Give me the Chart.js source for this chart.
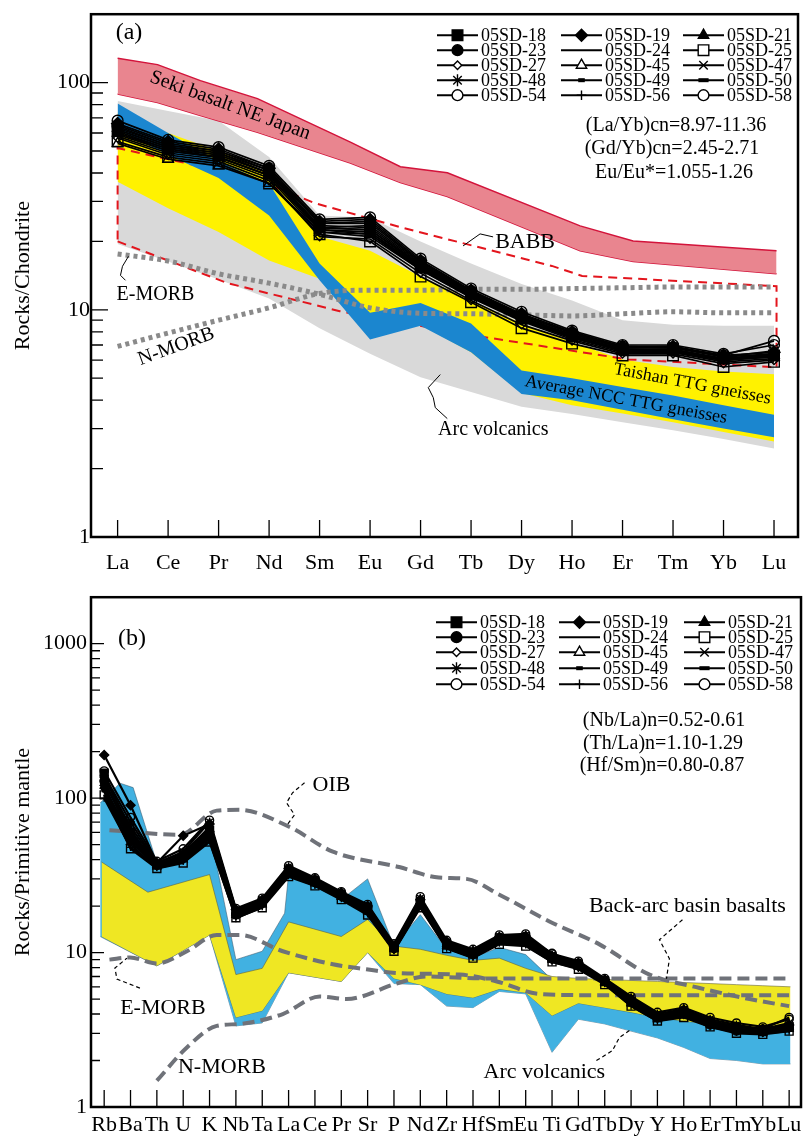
<!DOCTYPE html>
<html>
<head>
<meta charset="utf-8">
<script src="https://cdn.jsdelivr.net/npm/chart.js@4.4.0/dist/chart.umd.min.js"></script>
<style>
  body { margin: 0; background: #fff; }
  #wrap { position: relative; width: 809px; height: 1137px; }
  canvas { position: absolute; left: 0; }
</style>
</head>
<body>
<div id="wrap">
  <canvas id="chartA" width="809" height="580" style="top:0"></canvas>
  <canvas id="chartB" width="809" height="557" style="top:580px"></canvas>
</div>
<script>
// ---- categories / ticks ----
const reeLabels = ['La', 'Ce', 'Pr', 'Nd', 'Sm', 'Eu', 'Gd', 'Tb', 'Dy', 'Ho', 'Er', 'Tm', 'Yb', 'Lu'];
const spiderLabels = ['Rb', 'Ba', 'Th', 'U', 'K', 'Nb', 'Ta', 'La', 'Ce', 'Pr', 'Sr', 'P', 'Nd', 'Zr', 'Hf',
  'Sm', 'Eu', 'Ti', 'Gd', 'Tb', 'Dy', 'Y', 'Ho', 'Er', 'Tm', 'Yb', 'Lu'];
const reeDecades = [1, 10, 100];
const spiderDecades = [1, 10, 100, 1000];
const sampleNames = ['05SD-18', '05SD-19', '05SD-21', '05SD-23', '05SD-24', '05SD-25', '05SD-27', '05SD-45',
  '05SD-47', '05SD-48', '05SD-49', '05SD-50', '05SD-54', '05SD-56', '05SD-58'];

// ---- (a) chondrite normalised REE, one array per sample ----
const ree18 = [62, 52, 48, 40, 23.5, 23, 15.8, 11.8, 9.2, 7.7, 6.7, 6.7, 6.1, 6.3];
const ree19 = [66, 55, 51, 42, 24.5, 25, 16.5, 12.2, 9.6, 8.0, 6.9, 6.9, 6.3, 6.5];
const ree21 = [60, 50, 47, 39, 22.5, 22, 15.2, 11.5, 9.0, 7.5, 6.6, 6.6, 6.0, 6.2];
const ree23 = [64, 53, 49, 41, 23, 23.5, 16, 11.9, 9.3, 7.8, 6.8, 6.8, 6.2, 6.4];
const ree24 = [58, 49, 46, 38, 22, 21, 15, 11.3, 8.9, 7.4, 6.5, 6.5, 5.9, 6.1];
const ree25 = [55, 47, 44, 36, 21.5, 20, 14, 10.8, 8.3, 7.1, 6.3, 6.3, 5.6, 5.9];
const ree27 = [57, 48, 45, 37, 21, 20.5, 14.5, 11.0, 8.6, 7.3, 6.4, 6.4, 5.8, 6.0];
const ree45 = [54, 46, 43, 36, 22, 21.5, 15, 11.4, 9.0, 7.6, 6.6, 6.5, 6.0, 6.3];
const ree47 = [63, 53, 50, 41, 24, 24, 16.2, 12.0, 9.4, 7.9, 6.8, 6.9, 6.2, 6.6];
const ree48 = [61, 51, 48, 40, 23, 22.5, 15.5, 11.7, 9.1, 7.6, 6.7, 6.6, 6.1, 6.4];
const ree49 = [59, 50, 47, 39, 22.5, 21.5, 15.3, 11.6, 9.0, 7.6, 6.6, 6.6, 6.0, 6.2];
const ree50 = [62, 52, 49, 40, 23, 22.5, 15.7, 11.8, 9.2, 7.7, 6.7, 6.7, 6.1, 6.3];
const ree54 = [65, 54, 50, 42, 24, 24.5, 16.3, 12.1, 9.5, 7.9, 6.9, 6.8, 6.3, 7.3];
const ree56 = [60, 51, 47, 39, 22.5, 22, 15.4, 11.6, 9.1, 7.6, 6.6, 6.6, 6.0, 6.3];
const ree58 = [68, 56, 52, 43, 25, 25.5, 16.8, 12.4, 9.8, 8.1, 7.0, 7.0, 6.4, 7.0];

// ---- (a) reference fields ----
const sekiUpper = [[0, 128], [0.79, 120], [1.64, 102], [2.77, 85], [4.61, 54.7], [5.6, 42.6], [6.53, 40.1], [9.16, 23.4], [10.21, 20.1], [13.05, 18.2]];
const sekiLower = [[0, 89], [0.79, 81.7], [1.64, 71.6], [2.77, 60.4], [4.61, 44.3], [5.6, 36.3], [6.53, 31.5], [9.16, 18.2], [10.21, 16.3], [13.05, 14.4]];
const arcUpperA = [83, 75, 68, 47, 26, 25.4, 20, 16, 13, 11, 9, 8.6, 8.5, 8.5];
const arcLowerA = [19.5, 16.3, 13.6, 11.2, 8.3, 6.4, 5.05, 4.35, 3.74, 3.48, 3.2, 2.95, 2.7, 2.45];
const taishanUpper = [74, 60, 50, 40, 21, 18.2, 14, 11, 8.7, 7.2, 6.05, 5.6, 5.35, 5.2];
const taishanLower = [36.6, 28, 22, 16.5, 13.7, 7.6, 8.6, 6.5, 4.3, 3.8, 3.5, 3.2, 2.9, 2.63];
const nccUpper = [81, 60, 45, 36, 16, 9.7, 10.7, 8.7, 5.4, 5.0, 4.57, 4.2, 3.8, 3.45];
const nccLower = [62, 48, 38, 26, 13.5, 7.4, 8.5, 6.5, 4.26, 4.0, 3.63, 3.3, 3.0, 2.75];
const babbOutline = [[0, 20], [2.18, 13.1], [4.4, 9.86], [6.85, 7.84], [10.1, 6.05], [13.05, 5.58], [13.05, 12.7],
  [9.2, 14.1], [8.6, 15.6], [5.6, 23.1], [3.9, 29.5], [2.7, 38], [0, 51.5], [0, 20]];
const eMorbA = [17.6, 16.4, 14.4, 13.1, 11.7, 10.2, 9.65, 9.6, 9.5, 9.4, 9.6, 9.8, 9.7, 9.7];
const nMorbA = [6.9, 7.9, 9.0, 10.2, 11.8, 12.2, 12.2, 12.3, 12.3, 12.4, 12.5, 12.6, 12.6, 12.6];

// ---- (b) primitive mantle normalised, one array per sample ----
const pm18 = [145, 60, 37, 42, 62, 18, 21, 34, 29, 23.5, 19, 10.8, 21, 11.2, 9.8, 12, 12, 9.2, 8.3, 6.5, 4.8, 3.8, 4.1, 3.5, 3.2, 3.1, 3.3];
const pm19 = [190, 90, 38, 57, 68, 19, 22, 35, 30, 24.5, 20, 11.0, 22, 11.8, 10.2, 12.6, 12.8, 9.5, 8.6, 6.7, 5.0, 3.9, 4.2, 3.6, 3.3, 3.2, 3.4];
const pm21 = [120, 52, 36, 40, 58, 17.5, 20.5, 33, 28, 23, 18.5, 10.5, 21.5, 11, 9.6, 11.8, 12.2, 9.0, 8.1, 6.4, 4.7, 3.7, 4.3, 3.5, 3.2, 3.0, 3.2];
const pm23 = [130, 58, 37, 41, 60, 17.8, 21, 33.5, 28.5, 23.2, 19.5, 10.6, 20.5, 11.3, 9.7, 12.2, 11.8, 9.1, 8.2, 6.5, 4.8, 3.8, 4.0, 3.4, 3.1, 3.1, 3.3];
const pm24 = [110, 50, 35, 39, 55, 17, 20, 32, 27.5, 22.5, 18, 10.3, 20, 10.8, 9.4, 11.6, 11.5, 8.8, 8.0, 6.3, 4.6, 3.7, 3.9, 3.4, 3.1, 3.0, 3.2];
const pm25 = [105, 47, 35, 38, 52, 16.8, 19.5, 31, 27, 22, 17.5, 10.2, 19.5, 10.6, 9.2, 11.3, 11.0, 8.7, 7.8, 6.2, 4.5, 3.6, 3.8, 3.3, 3.0, 2.95, 3.1];
const pm27 = [115, 55, 36, 40, 57, 17.2, 20.3, 32.5, 27.8, 22.8, 18.8, 10.4, 20.8, 11, 9.5, 11.9, 11.7, 8.9, 8.0, 6.4, 4.7, 3.7, 4.0, 3.4, 3.1, 3.0, 3.2];
const pm45 = [125, 62, 37, 43, 63, 18.2, 21.5, 34, 29, 23.6, 19.2, 10.7, 21.2, 11.4, 9.9, 12.3, 12.4, 9.2, 8.4, 6.5, 4.9, 3.8, 4.1, 3.5, 3.2, 3.1, 3.3];
const pm47 = [135, 65, 38, 44, 65, 18.5, 21.8, 35, 29.5, 24, 19.8, 10.9, 21.8, 11.6, 10, 12.5, 12.6, 9.4, 8.5, 6.6, 4.9, 3.9, 4.2, 3.6, 3.3, 3.2, 3.4];
const pm48 = [140, 70, 38, 45, 70, 18.8, 22, 36, 30, 24.2, 20.2, 11.2, 22.5, 11.7, 10.3, 12.8, 13, 9.6, 8.7, 6.7, 5.1, 4.0, 4.3, 3.7, 3.4, 3.2, 3.5];
const pm49 = [112, 54, 36, 41, 56, 17.3, 20.6, 32.8, 28, 23, 18.6, 10.5, 20.6, 11.1, 9.6, 12.0, 11.9, 9.0, 8.1, 6.4, 4.7, 3.7, 4.0, 3.4, 3.1, 3.05, 3.2];
const pm50 = [118, 57, 36.5, 42, 59, 17.6, 20.8, 33.2, 28.3, 23.3, 19, 10.6, 21, 11.2, 9.7, 12.1, 12.1, 9.1, 8.2, 6.5, 4.8, 3.8, 4.1, 3.5, 3.2, 3.1, 3.3];
const pm54 = [128, 60, 37, 42, 61, 18, 21.2, 34.5, 29.2, 23.8, 19.6, 10.8, 21.6, 11.5, 9.9, 12.4, 12.5, 9.9, 8.4, 6.6, 4.9, 3.8, 4.2, 3.6, 3.3, 3.2, 3.8];
const pm56 = [100, 48, 35.5, 39, 53, 16.6, 19.8, 31.5, 27.2, 22.3, 17.8, 10.3, 19.8, 10.7, 9.3, 11.5, 11.2, 8.7, 7.9, 6.3, 4.5, 3.6, 3.9, 3.3, 3.05, 3.0, 3.1];
const pm58 = [150, 75, 39, 47, 72, 19.3, 22.5, 36.5, 30.5, 24.8, 20.5, 11.4, 23, 12, 10.5, 13, 13.2, 9.8, 8.8, 6.8, 5.2, 4.1, 4.4, 3.8, 3.5, 3.3, 3.7];

// ---- (b) reference fields ----
const blueUpperB = [[-0.15, 93], [0.6, 125], [1.1, 117], [2, 38], [3, 42], [4, 62], [5, 9.0], [6, 10.2], [6.85, 18], [7, 32],
  [8, 27], [9, 22], [10, 30], [11, 11], [12, 17.6], [13, 10.5], [14, 9.3], [15, 10.8], [16, 9.7], [16.8, 7.2], [17, 6.2],
  [18, 5.5], [19, 5.2], [20, 4.8], [21, 4.4], [22, 4.1], [23, 3.8], [24, 3.6], [25, 3.4], [26.05, 3.4]];
const blueLowerB = [[-0.15, 12.7], [2, 8.2], [4, 13], [5, 3.35], [6, 3.5], [7, 7.4], [9, 6.5], [10, 10], [11, 6.3], [12, 6.2],
  [13, 4.5], [14, 4.4], [15, 5.6], [16, 5.4], [17, 2.26], [18, 3.7], [19, 3.45], [20, 3.1], [21, 2.8], [22, 2.43],
  [23, 2.06], [24, 2.0], [25, 1.9], [26.05, 1.9]];
const yellowUpperB = [[-0.1, 38.6], [1.66, 24.6], [4, 32], [5, 7.2], [6, 7.9], [7, 15.8], [9, 12.7], [10, 16.4], [11, 11],
  [12, 10.5], [13, 9.6], [14, 8.9], [15, 9.2], [16, 7.9], [17, 7.0], [18, 6.8], [19, 6.7], [20, 6.6], [21, 6.5], [22, 6.4],
  [23, 6.3], [24, 6.2], [25, 6.1], [26.05, 6.0]];
const yellowLowerB = [[-0.1, 12.7], [2, 8.2], [4, 13], [5, 3.8], [6, 4.2], [7, 7.4], [9, 6.5], [10, 10], [11, 6.8], [12, 6.2],
  [13, 5.4], [14, 5.1], [15, 5.8], [16, 5.5], [17, 3.9], [18, 4.7], [19, 4.4], [20, 4.1], [21, 3.8], [22, 3.6], [23, 3.45],
  [24, 3.27], [25, 3.1], [26.05, 3.1]];
const oibLine = [[0.2, 62], [2.87, 58], [4.27, 83], [5.14, 84], [7.04, 65], [8.68, 45], [11.2, 35.8], [12.7, 30.6], [13.75, 30],
  [15.0, 23.7], [16.9, 15.9], [18.8, 11.3], [20.7, 7.2], [22.6, 5.9], [24.5, 5.0], [26.0, 4.5]];
const eMorbB = [[0.2, 9.0], [0.98, 9.3], [2.0, 8.5], [3.14, 10.2], [4.27, 13.0], [5.14, 13.0], [6.78, 10.2], [8.68, 8.4],
  [9.95, 7.8], [11.2, 7.35], [13.5, 7.2], [14.9, 6.5], [16.5, 5.4], [18.5, 5.3], [26.0, 5.3]];
const nMorbB = [[2.0, 1.48], [3.14, 2.43], [4.27, 3.35], [5.14, 3.45], [6.78, 4.0], [8.19, 5.2], [9.2, 5.0], [11.1, 6.3],
  [12.2, 7.0], [14.5, 6.8], [26.0, 6.8]];

const reeSeries = [ree18, ree19, ree21, ree23, ree24, ree25, ree27, ree45, ree47, ree48, ree49, ree50, ree54, ree56, ree58];
const pmSeries = [pm18, pm19, pm21, pm23, pm24, pm25, pm27, pm45, pm47, pm48, pm49, pm50, pm54, pm56, pm58];

// marker look for each sample (same order as sampleNames)
const markers = [
  {s: 'rect', fill: true, r: 1.25}, {s: 'rectRot', fill: true}, {s: 'triangle', fill: true},
  {s: 'circle', fill: true, r: 0.9}, {s: null}, {s: 'rect', fill: false, r: 1.25},
  {s: 'rectRot', fill: false, r: 0.7}, {s: 'triangle', fill: false}, {s: 'crossRot'},
  {s: 'star'}, {s: 'line', w: 4, r: 0.55}, {s: 'line', w: 4, r: 0.85},
  {s: 'circle', fill: false, r: 0.9}, {s: 'cross', r: 0.8}, {s: 'circle', fill: false, r: 0.9}
];

Chart.defaults.font.family = '"Liberation Serif", "Times New Roman", serif';
Chart.defaults.color = '#000';

const isDecade = v => Math.abs(Math.log10(v) - Math.round(Math.log10(v))) < 1e-9;
const toPts = vals => vals.map((v, i) => ({x: i, y: v}));
const pairPts = pairs => pairs.map(([x, y]) => ({x, y}));
const CLEAR = 'rgba(0,0,0,0)';

function logTicks(decades, max) {
  const out = [];
  decades.forEach(d => { for (let m = 1; m <= 9; m++) if (m * d <= max) out.push(m * d); });
  return out;
}

function band(upper, lower, color, order, edge, edgeW) {
  return [
    {data: upper, backgroundColor: color, borderColor: edge || CLEAR, borderWidth: edgeW || 0.01, fill: '+1', pointRadius: 0, order},
    {data: lower, borderColor: edge || CLEAR, borderWidth: edgeW || 0.01, fill: false, pointRadius: 0, order}
  ];
}

function refLine(pts, color, width, dash, order, smooth) {
  return {data: pts, borderColor: color, borderWidth: width, borderDash: dash, borderCapStyle: 'butt',
    fill: false, pointRadius: 0, cubicInterpolationMode: smooth ? 'monotone' : 'default', order};
}

function sampleSets(series, rad, lw) {
  return series.map((vals, i) => {
    const m = markers[i];
    return {
      label: sampleNames[i], data: toPts(vals), borderColor: '#000', borderWidth: lw, fill: false,
      pointStyle: m.s || 'circle', pointRadius: m.s ? rad * (m.r || 1) : 0,
      pointBackgroundColor: m.fill ? '#000' : CLEAR, pointBorderColor: '#000',
      pointBorderWidth: m.w || 1.4, order: 1
    };
  });
}

const decoPlugin = {
  id: 'deco',
  afterDatasetsDraw(chart, args, o) {
    const {ctx, chartArea: a, scales: {x, y}} = chart;
    ctx.save();
    // inward tick marks
    ctx.strokeStyle = '#000';
    ctx.lineWidth = 1.3;
    ctx.beginPath();
    y.ticks.forEach(t => {
      const py = y.getPixelForValue(t.value);
      if (py <= a.top + 2 || py >= a.bottom - 2) return;
      ctx.moveTo(a.left, py);
      ctx.lineTo(a.left + (isDecade(t.value) ? o.yMajor : o.yMinor), py);
    });
    x.ticks.forEach(t => {
      const px = x.getPixelForValue(t.value);
      ctx.moveTo(px, a.bottom);
      ctx.lineTo(px, a.bottom - o.xLen);
    });
    ctx.stroke();
    ctx.lineWidth = 2.5;
    ctx.strokeRect(a.left, a.top, a.right - a.left, a.bottom - a.top);

    // label leaders
    o.leaders.forEach(l => {
      const px = x.getPixelForValue(l.x), py = y.getPixelForValue(l.y);
      ctx.beginPath();
      ctx.lineWidth = o.leaderW;
      ctx.setLineDash(o.leaderDash);
      l.pts.forEach(([dx, dy], k) => k ? ctx.lineTo(px + dx, py + dy) : ctx.moveTo(px + dx, py + dy));
      ctx.stroke();
    });
    ctx.setLineDash([]);

    // texts
    ctx.fillStyle = '#000';
    ctx.textAlign = 'center';
    ctx.textBaseline = 'middle';
    o.texts.forEach(t => {
      let px, py;
      if (t.ax) {
        px = t.ax === 'L' ? a.left + t.dx : a.right - t.dx;
        py = a.top + t.dy;
      } else {
        px = x.getPixelForValue(t.x);
        py = y.getPixelForValue(t.y);
      }
      ctx.save();
      ctx.translate(px, py);
      if (t.rot) ctx.rotate(t.rot * Math.PI / 180);
      ctx.font = t.size + 'px "Liberation Serif", "Times New Roman", serif';
      ctx.fillText(t.text, 0, 0);
      ctx.restore();
    });

    // sample legend (3 columns, row-major)
    const lg = o.legend;
    const drawPoint = Chart.helpers && Chart.helpers.drawPoint;
    ctx.font = lg.size + 'px "Liberation Serif", "Times New Roman", serif';
    ctx.textAlign = 'left';
    sampleNames.forEach((name, i) => {
      const x0 = a.right - lg.lineX[i % 3];
      const yy = a.top + lg.rowY[Math.floor(i / 3)];
      ctx.strokeStyle = '#000';
      ctx.lineWidth = 2;
      ctx.beginPath();
      ctx.moveTo(x0, yy);
      ctx.lineTo(x0 + lg.len, yy);
      ctx.stroke();
      const m = markers[i];
      if (m.s && drawPoint) {
        ctx.fillStyle = m.fill ? '#000' : '#fff';
        ctx.lineWidth = m.w || 1.4;
        drawPoint(ctx, {pointStyle: m.s, rotation: 0, radius: lg.r * (m.r || 1), borderWidth: m.w || 1.4},
          x0 + lg.len / 2, yy);
      }
      ctx.fillStyle = '#000';
      ctx.fillText(name, x0 + lg.len + 3, yy + 1);
    });
    ctx.restore();
  }
};

function makeOptions(c) {
  return {
    responsive: false, animation: false, events: [],
    layout: {padding: c.pad},
    plugins: {legend: {display: false}, tooltip: {enabled: false}, deco: c.deco},
    scales: {
      x: {
        type: 'linear', min: c.xmin, max: c.xmax,
        grid: {display: false, drawTicks: false}, border: {display: false},
        afterBuildTicks: s => { s.ticks = c.labels.map((_, i) => ({value: i})); },
        afterFit: s => { s.height = c.xh; },
        ticks: {autoSkip: false, maxRotation: 0, minRotation: 0, padding: c.xpad, font: {size: 22},
          callback: v => c.labels[v] !== undefined ? c.labels[v] : ''}
      },
      y: {
        type: 'logarithmic', min: 1, max: c.ymax,
        grid: {display: false, drawTicks: false}, border: {display: false},
        afterBuildTicks: s => { s.ticks = logTicks(c.decades, c.ymax).map(v => ({value: v})); },
        afterFit: s => { s.width = 91; },
        ticks: {autoSkip: false, padding: c.ypad, font: {size: 22}, callback: v => isDecade(v) ? String(v) : ''},
        title: {display: true, text: c.ytitle, font: {size: 22}, padding: {top: 10, bottom: 0}}
      }
    }
  };
}

// ---------- (a) ----------
const dsA = [].concat(
  sampleSets(reeSeries, 6, 1.7),
  [refLine(toPts(eMorbA), '#8a8a8a', 5, [4, 4], 5, true),
   refLine(toPts(nMorbA), '#8a8a8a', 5, [4, 4], 5, true)],
  band(pairPts(sekiUpper), pairPts(sekiLower), '#e9858f', 6, '#d3143b', 1.5),
  band(toPts(nccUpper), toPts(nccLower), '#1b86cf', 7),
  [refLine(pairPts(babbOutline), '#e3151d', 2, [9, 6], 8, false)],
  band(toPts(taishanUpper), toPts(taishanLower), '#fff200', 9),
  band(toPts(arcUpperA), toPts(arcLowerA), '#d9d9d9', 10)
);

new Chart(document.getElementById('chartA'), {
  type: 'line',
  data: {datasets: dsA},
  options: makeOptions({
    labels: reeLabels, decades: reeDecades, ymax: 200, xmin: -0.527, xmax: 13.475,
    pad: {top: 8, right: 11, left: 0, bottom: 0}, xh: 43, xpad: 13, ypad: 1, ytitle: 'Rocks/Chondrite',
    deco: {
      yMajor: 17, yMinor: 12, xLen: 17, leaderW: 1, leaderDash: [],
      legend: {lineX: [361, 237, 115], rowY: [21, 36, 51, 66, 81], len: 41, r: 6, size: 18},
      texts: [
        {text: '(a)', ax: 'L', dx: 38, dy: 19, size: 24},
        {text: '(La/Yb)cn=8.97-11.36', ax: 'R', dx: 122, dy: 112, size: 20},
        {text: '(Gd/Yb)cn=2.45-2.71', ax: 'R', dx: 126, dy: 135, size: 20},
        {text: 'Eu/Eu*=1.055-1.26', ax: 'R', dx: 124, dy: 159, size: 20},
        {text: 'Seki basalt NE Japan', x: 2.23, y: 79.2, rot: 20, size: 20},
        {text: 'BABB', x: 8.07, y: 19.9, size: 22},
        {text: 'E-MORB', x: 0.75, y: 11.7, size: 20},
        {text: 'N-MORB', x: 1.16, y: 6.88, rot: -20, size: 20},
        {text: 'Taishan TTG gneisses', x: 11.38, y: 4.71, rot: 10.8, size: 18},
        {text: 'Average NCC TTG gneisses', x: 10.07, y: 4.01, rot: 10.4, size: 18},
        {text: 'Arc volcanics', x: 7.44, y: 2.97, size: 20}
      ],
      leaders: [
        {x: 8.07, y: 19.9, pts: [[-62, 4], [-45, -8], [-32, -5]]},
        {x: 0.75, y: 11.7, pts: [[-27, -38], [-33, -28], [-35, -19], [-30, -14]]},
        {x: 7.44, y: 2.97, pts: [[-53, -55], [-65, -42], [-60, -32], [-58, -22], [-46, -11]]}
      ]
    }
  }),
  plugins: [decoPlugin]
});

// ---------- (b) ----------
const dsB = [].concat(
  sampleSets(pmSeries, 4.5, 2.2),
  [refLine(pairPts(oibLine), '#6f7279', 4, [12, 6], 5, true),
   refLine(pairPts(eMorbB), '#6f7279', 4, [12, 6], 5, true),
   refLine(pairPts(nMorbB), '#6f7279', 4, [12, 6], 5, true)],
  band(pairPts(yellowUpperB), pairPts(yellowLowerB), '#efe723', 9, 'rgba(90,90,60,0.7)', 0.8),
  band(pairPts(blueUpperB), pairPts(blueLowerB), '#41b1e1', 10, 'rgba(60,90,110,0.7)', 0.8)
);

new Chart(document.getElementById('chartB'), {
  type: 'line',
  data: {datasets: dsB},
  options: makeOptions({
    labels: spiderLabels, decades: spiderDecades, ymax: 2000, xmin: -0.5, xmax: 26.45,
    pad: {top: 13, right: 7, left: 0, bottom: 0}, xh: 30, xpad: 5, ypad: 4, ytitle: 'Rocks/Primitive mantle',
    deco: {
      yMajor: 13, yMinor: 9, xLen: 17, leaderW: 1.2, leaderDash: [4, 3],
      legend: {lineX: [365, 242, 117], rowY: [25, 40, 55, 71, 87], len: 41, r: 6, size: 18},
      texts: [
        {text: '(b)', ax: 'L', dx: 41, dy: 42, size: 24},
        {text: '(Nb/La)n=0.52-0.61', ax: 'R', dx: 137, dy: 124, size: 20},
        {text: '(Th/La)n=1.10-1.29', ax: 'R', dx: 138, dy: 147, size: 20},
        {text: '(Hf/Sm)n=0.80-0.87', ax: 'R', dx: 139, dy: 169, size: 20},
        {text: 'OIB', x: 8.63, y: 122, size: 22},
        {text: 'Back-arc basin basalts', x: 22.14, y: 20.1, size: 22},
        {text: 'Arc volcanics', x: 16.71, y: 1.67, size: 22},
        {text: 'E-MORB', x: 2.23, y: 4.37, size: 22},
        {text: 'N-MORB', x: 4.47, y: 1.80, size: 22}
      ],
      leaders: [
        {x: 8.63, y: 122, pts: [[-27, -2], [-39, 8], [-45, 18], [-37, 30], [-45, 41]]},
        {x: 22.14, y: 20.1, pts: [[-5, 14], [-28, 34], [-18, 53], [-21, 73]]},
        {x: 16.71, y: 1.67, pts: [[52, -12], [68, -22], [75, -35], [85, -42]]},
        {x: 2.23, y: 4.37, pts: [[-23, -20], [-46, -29], [-48, -40], [-36, -50]]}
      ]
    }
  }),
  plugins: [decoPlugin]
});
</script>
</body>
</html>
